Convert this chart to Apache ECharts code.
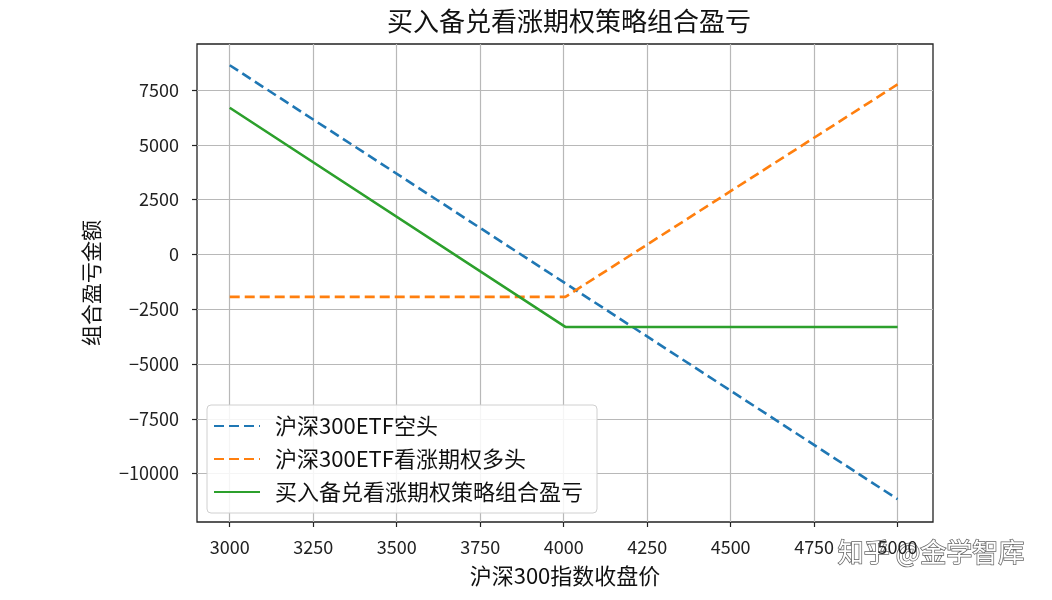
<!DOCTYPE html>
<html>
<head>
<meta charset="utf-8">
<script src="https://cdn.jsdelivr.net/npm/echarts@6/dist/echarts.min.js"></script>
<style>
html,body{margin:0;padding:0;background:#fff;}
#c{width:1052px;height:600px;}
</style>
</head>
<body>
<div id="c"></div>
<script>
// Data
const seriesNames = ['沪深300ETF空头', '沪深300ETF看涨期权多头', '买入备兑看涨期权策略组合盈亏'];
const shortX = [3000, 5000];
const shortY = [8630, -11170];
const callX = [3000, 4005, 5000];
const callY = [-1940, -1940, 7760];
const comboX = [3000, 4005, 5000];
const comboY = [6690, -3310, -3310];
const xTicks = [3000, 3250, 3500, 3750, 4000, 4250, 4500, 4750, 5000];
const yTicks = [-10000, -7500, -5000, -2500, 0, 2500, 5000, 7500];

const pairs = (xs, ys) => xs.map((x, i) => [x, ys[i]]);
const font = '"Noto Sans CJK SC", "DejaVu Sans", sans-serif';
const chart = echarts.init(document.getElementById('c'));
const dash = [10, 5];
chart.setOption({
  animation: false,
  backgroundColor: '#fff',
  title: {
    text: '买入备兑看涨期权策略组合盈亏',
    left: 564, top: 3, textAlign: 'center',
    textStyle: {fontFamily: font, fontSize: 26, fontWeight: 'normal', color: '#111'}
  },
  grid: {left: 197, top: 44, width: 736, height: 478, show: true,
         borderColor: '#222', borderWidth: 1.3, backgroundColor: 'transparent'},
  xAxis: {
    type: 'value', min: 2902, max: 5106,
    name: '沪深300指数收盘价', nameLocation: 'middle', nameGap: 43,
    nameTextStyle: {fontFamily: font, fontSize: 22, color: '#111'},
    axisLine: {show: false, onZero: false},
    axisTick: {show: true, length: 5, customValues: xTicks, lineStyle: {color: '#222', width: 1.2}},
    axisLabel: {customValues: xTicks, fontFamily: font, fontSize: 18, color: '#222', margin: 16,
                formatter: v => String(v)},
    splitLine: {show: true, lineStyle: {color: '#b8b8b8', width: 1.2}}
  },
  yAxis: {
    type: 'value', min: -12210, max: 9600,
    name: '组合盈亏金额', nameLocation: 'middle', nameGap: 95, nameRotate: 90,
    nameTextStyle: {fontFamily: font, fontSize: 21, color: '#111'},
    axisLine: {show: false, onZero: false},
    axisTick: {show: true, length: 5, customValues: yTicks, lineStyle: {color: '#222', width: 1.2}},
    axisLabel: {customValues: yTicks, fontFamily: font, fontSize: 18, color: '#222', margin: 18,
                formatter: v => (v < 0 ? '\u2212' + Math.abs(v) : String(v))},
    splitLine: {show: true, lineStyle: {color: '#b8b8b8', width: 1.2}}
  },
  legend: {
    left: 207, top: 405, orient: 'vertical',
    backgroundColor: 'rgba(255,255,255,0.85)', borderColor: '#d0d0d0', borderWidth: 1, borderRadius: 4,
    padding: [10, 14, 10, 6], itemGap: 11, itemWidth: 46, itemHeight: 22,
    itemStyle: {opacity: 0},
    textStyle: {fontFamily: font, fontSize: 22, color: '#111', padding: [0, 0, 0, 10]},
    data: seriesNames.map(n => ({name: n}))
  },
  series: [
    {name: seriesNames[0], type: 'line', data: pairs(shortX, shortY), symbol: 'none',
     color: '#1f77b4', lineStyle: {color: '#1f77b4', width: 2.6, type: dash}},
    {name: seriesNames[1], type: 'line', data: pairs(callX, callY), symbol: 'none',
     color: '#ff7f0e', lineStyle: {color: '#ff7f0e', width: 2.6, type: dash}},
    {name: seriesNames[2], type: 'line', data: pairs(comboX, comboY), symbol: 'none',
     color: '#2ca02c', lineStyle: {color: '#2ca02c', width: 2.6}}
  ],
  graphic: [{
    type: 'text', right: 27, top: 538, silent: true,
    style: {text: '知乎 @金学智库', font: '26px ' + font, fill: '#fff',
            stroke: '#666', lineWidth: 1.5}
  }]
});
</script>
</body>
</html>
